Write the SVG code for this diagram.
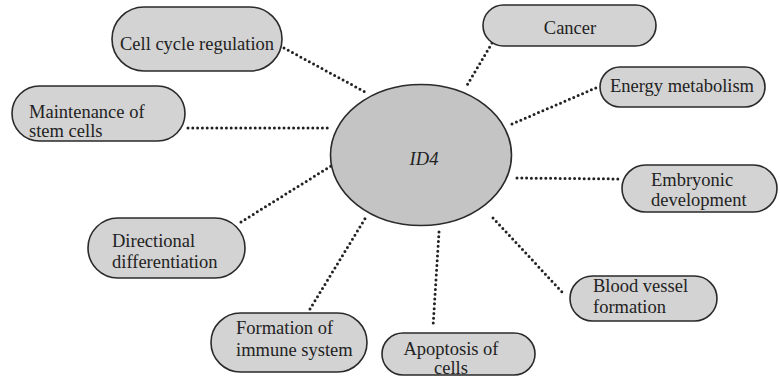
<svg xmlns="http://www.w3.org/2000/svg" width="780" height="377" viewBox="0 0 780 377">
<style>
.box{fill:#d3d3d3;stroke:#2a2a2a;stroke-width:1.6}
.hub{fill:#c4c4c4;stroke:#2a2a2a;stroke-width:1.6}
.t{font-size:18.5px;fill:#222}
.m{text-anchor:middle}
.c line{stroke:#222;stroke-width:3;stroke-linecap:round;stroke-dasharray:0 4.8;fill:none}
</style>
<rect width="780" height="377" fill="#ffffff"/>
<g id="connectors" class="c">
<line x1="284" y1="48" x2="367" y2="93"/>
<line x1="188" y1="128" x2="330" y2="128"/>
<line x1="241" y1="222" x2="331" y2="166"/>
<line x1="310" y1="309" x2="366" y2="217"/>
<line x1="439" y1="232" x2="433" y2="327"/>
<line x1="493" y1="218" x2="563" y2="293"/>
<line x1="517" y1="178" x2="622" y2="179"/>
<line x1="512" y1="124" x2="598" y2="87"/>
<line x1="492" y1="43" x2="466" y2="87"/>
</g>
<g font-family="Liberation Serif, serif">
<g id="id4">
<ellipse class="hub" cx="421" cy="155" rx="90.5" ry="70.5"/>
<text class="t m" x="424" y="165" font-style="italic" font-size="20">ID4</text>
</g>
<g id="cell-cycle">
<rect class="box" x="112" y="7" width="170" height="64" rx="32"/>
<text class="t m" x="197" y="50">Cell cycle regulation</text>
</g>
<g id="maintenance">
<rect class="box" x="12" y="86" width="173" height="55" rx="27.5"/>
<text class="t" x="29" y="118">Maintenance of</text>
<text class="t" x="29" y="137">stem cells</text>
</g>
<g id="directional">
<rect class="box" x="88" y="218" width="157" height="60" rx="30"/>
<text class="t" x="112" y="247">Directional</text>
<text class="t" x="112" y="268">differentiation</text>
</g>
<g id="immune">
<rect class="box" x="211" y="313" width="156" height="59" rx="29.5"/>
<text class="t" x="236" y="334">Formation of</text>
<text class="t" x="236" y="356">immune system</text>
</g>
<g id="apoptosis">
<rect class="box" x="382" y="333" width="153" height="42" rx="21"/>
<text class="t m" x="451" y="355">Apoptosis of</text>
<text class="t m" x="451" y="374">cells</text>
</g>
<g id="blood-vessel">
<rect class="box" x="570" y="276" width="147" height="45" rx="22.5"/>
<text class="t" x="593" y="292">Blood vessel</text>
<text class="t" x="593" y="313">formation</text>
</g>
<g id="embryonic">
<rect class="box" x="622" y="165" width="155" height="47" rx="23.5"/>
<text class="t" x="651" y="186">Embryonic</text>
<text class="t" x="651" y="206">development</text>
</g>
<g id="energy">
<rect class="box" x="600" y="67" width="165" height="40" rx="20"/>
<text class="t m" x="682" y="92">Energy metabolism</text>
</g>
<g id="cancer">
<rect class="box" x="483" y="5" width="173" height="41" rx="20.5"/>
<text class="t m" x="570" y="34">Cancer</text>
</g>
</g>
</svg>
